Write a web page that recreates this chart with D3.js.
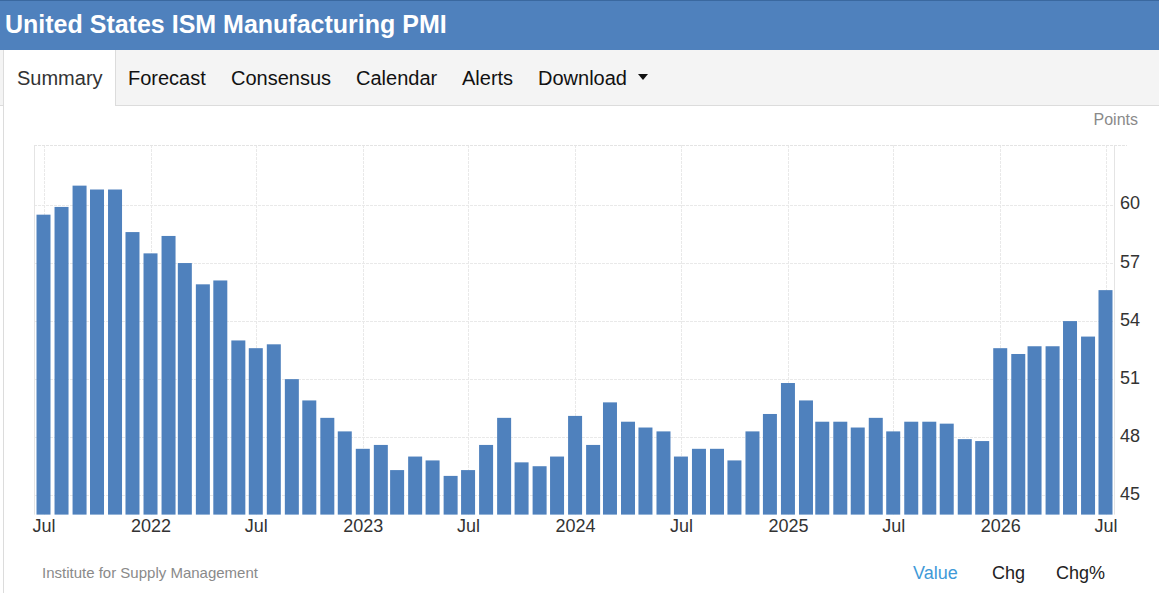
<!DOCTYPE html>
<html>
<head>
<meta charset="utf-8">
<script src="https://cdn.jsdelivr.net/npm/d3@7"></script>
<style>
  html, body { margin: 0; padding: 0; background: #fff; }
  svg { display: block; font-family: "Liberation Sans", Arial, sans-serif; }
</style>
</head>
<body>
<svg id="chart" width="1159" height="593"></svg>
<script>
// ---------------- data ----------------
const months = [
  "2021-07","2021-08","2021-09","2021-10","2021-11","2021-12",
  "2022-01","2022-02","2022-03","2022-04","2022-05","2022-06",
  "2022-07","2022-08","2022-09","2022-10","2022-11","2022-12",
  "2023-01","2023-02","2023-03","2023-04","2023-05","2023-06",
  "2023-07","2023-08","2023-09","2023-10","2023-11","2023-12",
  "2024-01","2024-02","2024-03","2024-04","2024-05","2024-06",
  "2024-07","2024-08","2024-09","2024-10","2024-11","2024-12",
  "2025-01","2025-02","2025-03","2025-04","2025-05","2025-06",
  "2025-07","2025-08","2025-09","2025-10","2025-11","2025-12",
  "2026-01","2026-02","2026-03","2026-04","2026-05","2026-06",
  "2026-07"
];
const pmiValues = [
  59.5, 59.9, 61.0, 60.8, 60.8, 58.6,
  57.5, 58.4, 57.0, 55.9, 56.1, 53.0,
  52.6, 52.8, 51.0, 49.9, 49.0, 48.3,
  47.4, 47.6, 46.3, 47.0, 46.8, 46.0,
  46.3, 47.6, 49.0, 46.7, 46.5, 47.0,
  49.1, 47.6, 49.8, 48.8, 48.5, 48.3,
  47.0, 47.4, 47.4, 46.8, 48.3, 49.2,
  50.8, 49.9, 48.8, 48.8, 48.5, 49.0,
  48.3, 48.8, 48.8, 48.7, 47.9, 47.8,
  52.6, 52.3, 52.7, 52.7, 54.0, 53.2,
  55.6
];
const xTickDates = ["2021-07","2022-01","2022-07","2023-01","2023-07","2024-01","2024-07","2025-01","2025-07","2026-01","2026-07"];
const xTickLabels = ["Jul","2022","Jul","2023","Jul","2024","Jul","2025","Jul","2026","Jul"];
const yTickValues = [45, 48, 51, 54, 57, 60];
const tabLabels = ["Summary","Forecast","Consensus","Calendar","Alerts","Download"];
const footerButtons = ["Value","Chg","Chg%"];

const title = "United States ISM Manufacturing PMI";
const unitLabel = "Points";
const sourceLabel = "Institute for Supply Management";

// ---------------- layout ----------------
const W = 1159, H = 593;
const plot = { left: 34, right: 1114, top: 145, bottom: 514.6 };
const parse = d3.timeParse("%Y-%m");
const barColor = "#4f81bd";

const svg = d3.select("#chart");

// header
svg.append("rect").attr("x", 0).attr("y", 0).attr("width", W).attr("height", 50).attr("fill", "#4f81bd");
svg.append("rect").attr("x", 0).attr("y", 0).attr("width", W).attr("height", 1).attr("fill", "#3a689f");
svg.append("text").attr("x", 5).attr("y", 33)
  .attr("fill", "#fff").attr("font-weight", "bold").attr("font-size", 25)
  .text(title);

// tab bar
svg.append("rect").attr("x", 0).attr("y", 50).attr("width", W).attr("height", 55).attr("fill", "#f4f4f4");
svg.append("line").attr("x1", 0).attr("x2", W).attr("y1", 105.5).attr("y2", 105.5).attr("stroke", "#dcdcdc");
svg.append("rect").attr("x", 3).attr("y", 50).attr("width", 112).attr("height", 56).attr("fill", "#fff");
svg.append("line").attr("x1", 115.5).attr("x2", 115.5).attr("y1", 50).attr("y2", 106).attr("stroke", "#dcdcdc");
svg.append("line").attr("x1", 3.5).attr("x2", 3.5).attr("y1", 50).attr("y2", H).attr("stroke", "#dcdcdc");

const tabX = [17, 128, 231, 356, 462, 538];
svg.append("g").selectAll("text").data(tabLabels).join("text")
  .attr("x", (d, i) => tabX[i]).attr("y", 85)
  .attr("font-size", 20)
  .attr("fill", (d, i) => i === 0 ? "#333" : "#111")
  .text(d => d);
svg.append("path").attr("d", "M638,74 L648,74 L643,80 Z").attr("fill", "#111");

// scales
const x = d3.scaleTime()
  .domain([parse("2021-07"), parse("2026-07")])
  .range([43.5, 1105.5]);
const y = d3.scaleLinear().domain([44, 63.1]).range([plot.bottom, plot.top]);

// grid
const grid = svg.append("g");
grid.selectAll("line.h").data(yTickValues).join("line")
  .attr("x1", plot.left).attr("x2", plot.right)
  .attr("y1", d => Math.round(y(d)) + 0.5).attr("y2", d => Math.round(y(d)) + 0.5)
  .attr("stroke", "#e9e9e9").attr("stroke-dasharray", "3,1");
grid.selectAll("line.v").data(xTickDates).join("line")
  .attr("x1", d => Math.round(x(parse(d))) + 0.5).attr("x2", d => Math.round(x(parse(d))) + 0.5)
  .attr("y1", plot.top).attr("y2", plot.bottom)
  .attr("stroke", "#e9e9e9").attr("stroke-dasharray", "3,1");
// frame
grid.append("line").attr("x1", plot.left).attr("x2", 1127).attr("y1", plot.top + 0.5).attr("y2", plot.top + 0.5).attr("stroke", "#e4e4e4").attr("stroke-dasharray", "3,1");
grid.append("line").attr("x1", plot.left + 0.5).attr("x2", plot.left + 0.5).attr("y1", plot.top).attr("y2", plot.bottom).attr("stroke", "#e4e4e4");
grid.append("line").attr("x1", plot.right + 0.5).attr("x2", plot.right + 0.5).attr("y1", plot.top).attr("y2", plot.bottom).attr("stroke", "#e4e4e4");

// bars
const barW = 14;
svg.append("g").selectAll("rect").data(months.map((m, i) => ({ m, v: pmiValues[i] }))).join("rect")
  .attr("x", d => x(parse(d.m)) - barW / 2)
  .attr("width", barW)
  .attr("y", d => y(d.v))
  .attr("height", d => y(44) - y(d.v))
  .attr("fill", barColor);

// x axis
const xAxis = d3.axisBottom(x)
  .tickValues(xTickDates.map(parse))
  .tickFormat((d, i) => xTickLabels[i])
  .tickSize(0).tickPadding(4.5);
const gx = svg.append("g").attr("transform", `translate(0,${plot.bottom})`).call(xAxis);
gx.select(".domain").remove();
gx.selectAll("text").attr("font-size", 18).attr("fill", "#333").attr("font-family", "Liberation Sans, Arial, sans-serif");

// y axis (right)
const yAxis = d3.axisRight(y).tickValues(yTickValues).tickFormat(d3.format("d")).tickSize(0).tickPadding(6);
const gy = svg.append("g").attr("transform", `translate(${plot.right},0)`).call(yAxis);
gy.select(".domain").remove();
gy.selectAll("text").attr("font-size", 18).attr("fill", "#333").attr("dy", "0.22em").attr("font-family", "Liberation Sans, Arial, sans-serif");

// unit label
svg.append("text").attr("x", 1138).attr("y", 124.5).attr("text-anchor", "end")
  .attr("font-size", 16).attr("fill", "#8a8a8a").text(unitLabel);

// footer
svg.append("text").attr("x", 42).attr("y", 578).attr("font-size", 15).attr("fill", "#8a8a8a").text(sourceLabel);
const btnX = [913, 992, 1056];
svg.append("g").selectAll("text").data(footerButtons).join("text")
  .attr("x", (d, i) => btnX[i]).attr("y", 579)
  .attr("font-size", 18)
  .attr("fill", (d, i) => i === 0 ? "#3f9ad8" : "#222")
  .text(d => d);
</script>
</body>
</html>
